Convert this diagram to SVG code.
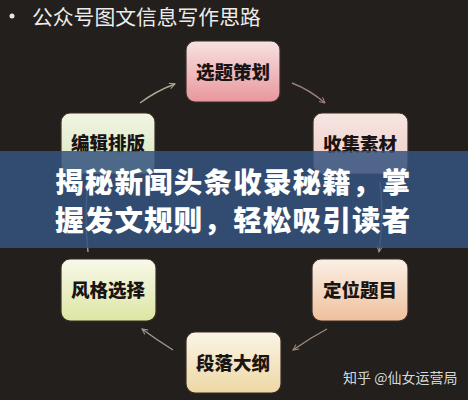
<svg xmlns="http://www.w3.org/2000/svg" width="468" height="400" viewBox="0 0 468 400">
<style>
.node{stroke:#3b2c26;stroke-width:1.2}
.lbl{font-family:"Noto Sans CJK SC","Noto Sans",sans-serif;font-weight:900;font-size:18.5px;fill:#1a1414;text-anchor:middle}
.arr{fill:none;stroke-width:1.4}
</style>
<defs>
<linearGradient id="gPink" x1="0" y1="0" x2="0" y2="1"><stop offset="0" stop-color="#f7e2e2"/><stop offset="1" stop-color="#e8979c"/></linearGradient>
<linearGradient id="gRose" x1="0" y1="0" x2="0" y2="1"><stop offset="0" stop-color="#f7e6e2"/><stop offset="1" stop-color="#eccac4"/></linearGradient>
<linearGradient id="gPeach" x1="0" y1="0" x2="0" y2="1"><stop offset="0" stop-color="#fbf0e6"/><stop offset="1" stop-color="#efc09c"/></linearGradient>
<linearGradient id="gCream" x1="0" y1="0" x2="0" y2="1"><stop offset="0" stop-color="#fbf5e6"/><stop offset="1" stop-color="#edd7a4"/></linearGradient>
<linearGradient id="gLime" x1="0" y1="0" x2="0" y2="1"><stop offset="0" stop-color="#f8f8ea"/><stop offset="1" stop-color="#dde6a2"/></linearGradient>
<linearGradient id="gMint" x1="0" y1="0" x2="0" y2="1"><stop offset="0" stop-color="#f1f5e4"/><stop offset="1" stop-color="#d8e6bc"/></linearGradient>
<marker id="ah" viewBox="0 0 10 10" refX="9" refY="5" markerWidth="7" markerHeight="7" orient="auto" markerUnits="userSpaceOnUse"><path d="M1,1 L9,5 L1,9" fill="none" stroke="context-stroke" stroke-width="1.4"/></marker>
</defs>
<rect width="468" height="400" fill="#221f1c"/>
<g id="title">
<circle cx="12" cy="16" r="2.5" fill="#e6e6e6"/>
<text x="32" y="25" font-family="Noto Sans CJK SC,sans-serif" font-size="20.8" fill="#ececec">公众号图文信息写作思路</text>
</g>
<g id="connectors">
<path class="arr" d="M140,103 Q156,91 175,84" stroke="#a9ae92" marker-end="url(#ah)"/>
<path class="arr" d="M292,83 Q310,90 325,103" stroke="#9c7c7c" marker-end="url(#ah)"/>
<path class="arr" d="M380,182 Q384,215 379,252" stroke="#a08a80" marker-end="url(#ah)"/>
<path class="arr" d="M327,329 Q310,338 293,350" stroke="#a08c7a" marker-end="url(#ah)"/>
<path class="arr" d="M173,350 Q157,340 142,329" stroke="#9c9c92" marker-end="url(#ah)"/>
<path class="arr" d="M88,252 Q84,215 88,181" stroke="#9ca08e" marker-end="url(#ah)"/>
</g>
<g id="n1"><rect class="node" x="186" y="41" width="94" height="61" rx="9" fill="url(#gPink)"/><text class="lbl" x="233" y="79">选题策划</text></g>
<g id="n2"><rect class="node" x="313" y="113" width="95" height="61" rx="9" fill="url(#gRose)"/><text class="lbl" x="360" y="151">收集素材</text></g>
<g id="n3"><rect class="node" x="312" y="259" width="96" height="62" rx="9" fill="url(#gPeach)"/><text class="lbl" x="360" y="297">定位题目</text></g>
<g id="n4"><rect class="node" x="186" y="332" width="95" height="61" rx="9" fill="url(#gCream)"/><text class="lbl" x="233" y="370">段落大纲</text></g>
<g id="n5"><rect class="node" x="61" y="259" width="95" height="62" rx="9" fill="url(#gLime)"/><text class="lbl" x="108" y="297">风格选择</text></g>
<g id="n6"><rect class="node" x="61" y="113" width="94" height="61" rx="9" fill="url(#gMint)"/><text class="lbl" x="108" y="150">编辑排版</text></g>
<g id="banner">
<rect x="0" y="151" width="468" height="97" fill="#36547f" opacity="0.86"/>
<text x="55" y="193" font-family="Noto Sans CJK SC,sans-serif" font-weight="900" font-size="28.5" letter-spacing="1.2" fill="#ffffff">揭秘新闻头条收录秘籍，掌</text>
<text x="55" y="231" font-family="Noto Sans CJK SC,sans-serif" font-weight="900" font-size="28.5" letter-spacing="1.2" fill="#ffffff">握发文规则，轻松吸引读者</text>
</g>
<text x="343" y="383" font-family="Noto Sans CJK SC,sans-serif" font-size="14" fill="#d8d8d8">知乎 @仙女运营局</text>
</svg>
